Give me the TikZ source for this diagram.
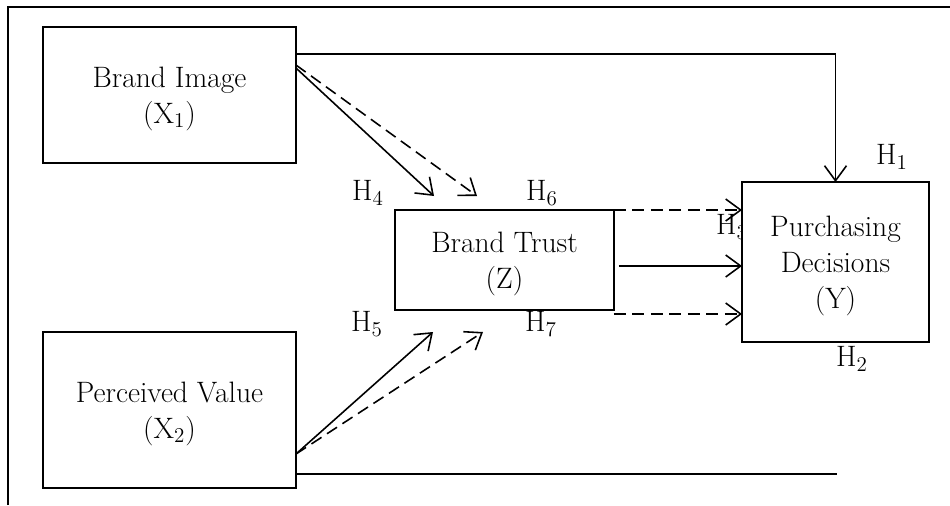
\documentclass[tikz,border=0pt]{standalone}
\usepackage{tikz}
\usetikzlibrary{arrows.meta,positioning}

\begin{document}
\begin{tikzpicture}[
		x=0.02cm, y=-0.02cm,
		font=\fontsize{16.8}{20.5}\selectfont,
		box/.style={
			draw,
			line width=1.5pt,
			fill=white,
			align=center,
			text depth=-2pt,
			inner sep=0pt,
			outer sep=0pt
		},
		hyp/.style={inner sep=0pt},
		conn/.style={
			line width=0.9pt,
			-{Straight Barb[length=0.3cm,width=0.44cm]}
		},
		dashconn/.style={
			conn,
			dash pattern=on 0.24cm off 0.13cm
		}
		]
		
		\useasboundingbox (0,0) rectangle (950,505);
		\draw[line width=1.2pt] (8,505) -- (8,7) -- (950,7);
		
		\node[box, minimum width=5.06cm, minimum height=2.72cm] (img) at (169.5,95)
		{Brand Image\\ (X$_1$)};
		
		\node[box, minimum width=5.06cm, minimum height=3.12cm] (val) at (169.5,410)
		{Perceived Value\\ (X$_2$)};
		
		\node[box, minimum width=4.38cm, minimum height=2cm] (bt) at (504.5,260)
		{Brand Trust\\ (Z)};
		
		% H3 sits partly under the Y box
		\node[hyp] (h3) at (732,227) {H$_3$};
		
		\node[box, minimum width=3.74cm, minimum height=3.2cm] (pd) at (835.5,262)
		{Purchasing\\ Decisions\\ (Y)};
		
		\node[hyp] (h1) at (892,157) {H$_1$};
		\node[hyp] (h2) at (852,359) {H$_2$};
		\node[hyp] (h4) at (368,193) {H$_4$};
		\node[hyp] (h5) at (367,324) {H$_5$};
		\node[hyp] (h6) at (542,193) {H$_6$};
		\node[hyp] (h7) at (541,324) {H$_7$};
		
		\coordinate (tip4) at (434,196);
		\coordinate (tip6) at (477,196);
		\coordinate (tip5) at (433,332);
		\coordinate (tip7) at (483,332);
		\coordinate (valend) at (837,474);
		\coordinate (btmid) at ([xshift=0.1cm,yshift=-0.12cm]bt.east);
		\coordinate (btlow) at ([yshift=-0.08cm]bt.south east);
		
		\draw[conn] ([yshift=0.82cm]img.east) -| (pd.north);
		\draw[conn] ([yshift=0.54cm]img.east) -- (tip4);
		\draw[dashconn] ([yshift=0.6cm]img.east) -- (tip6);
		\draw[conn] ([yshift=-0.88cm]val.east) -- (tip5);
		\draw[dashconn] ([yshift=-0.88cm]val.east) -- (tip7);
		\draw[line width=0.9pt] (val.east |- valend) -- (valend);
		\draw[dashconn] (bt.north east) -- (bt.north east -| pd.west);
		\draw[conn] (btmid) -- (btmid -| pd.west);
		\draw[dashconn] (btlow) -- (btlow -| pd.west);
		
	\end{tikzpicture}
\end{document}
